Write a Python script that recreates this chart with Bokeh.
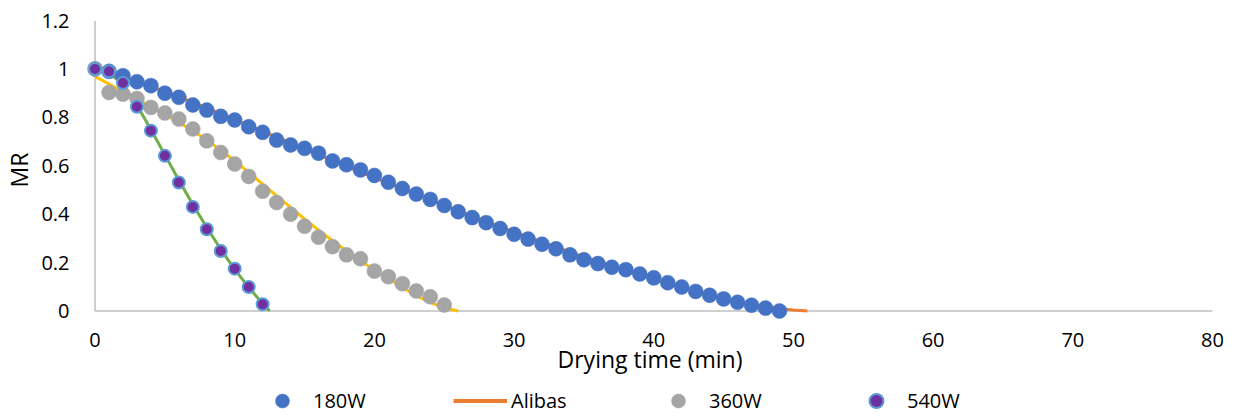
from bokeh.plotting import figure
from bokeh.layouts import column
from bokeh.models import Range1d, FixedTicker, Legend, LegendItem
from bokeh.embed import file_html
from bokeh.resources import INLINE

# ---------------- data ----------------
t_180 = list(range(0, 50))
mr_180 = [1.0, 0.99, 0.972, 0.947, 0.931, 0.90, 0.883, 0.851, 0.83, 0.804,
          0.789, 0.761, 0.738, 0.706, 0.686, 0.672, 0.652, 0.62, 0.604, 0.583,
          0.56, 0.532, 0.506, 0.483, 0.461, 0.436, 0.41, 0.386, 0.365, 0.341,
          0.317, 0.297, 0.276, 0.257, 0.232, 0.212, 0.196, 0.181, 0.171, 0.153,
          0.137, 0.117, 0.099, 0.081, 0.065, 0.05, 0.036, 0.024, 0.012, 0.0]

t_360 = list(range(0, 26))
mr_360 = [1.0, 0.903, 0.896, 0.878, 0.841, 0.818, 0.793, 0.752, 0.703, 0.655,
          0.607, 0.556, 0.495, 0.448, 0.40, 0.35, 0.305, 0.266, 0.232, 0.216,
          0.165, 0.142, 0.113, 0.083, 0.059, 0.025]

t_540 = list(range(0, 13))
mr_540 = [1.0, 0.99, 0.942, 0.844, 0.745, 0.641, 0.531, 0.43, 0.338, 0.248,
          0.175, 0.099, 0.028]

# Alibas model curves
t_fit_180 = list(range(0, 52))
mr_fit_180 = [0.995, 0.982, 0.966, 0.948, 0.928, 0.907, 0.885, 0.862, 0.839, 0.815,
              0.791, 0.767, 0.743, 0.718, 0.694, 0.670, 0.646, 0.622, 0.598, 0.575,
              0.551, 0.528, 0.505, 0.482, 0.459, 0.437, 0.414, 0.392, 0.370, 0.348,
              0.327, 0.306, 0.285, 0.264, 0.244, 0.224, 0.205, 0.186, 0.167, 0.149,
              0.132, 0.115, 0.098, 0.082, 0.067, 0.053, 0.040, 0.029, 0.019, 0.010,
              0.004, 0.0]

t_fit_360 = list(range(0, 27))
mr_fit_360 = [0.968, 0.938, 0.905, 0.874, 0.843, 0.812, 0.78, 0.745, 0.706, 0.664,
              0.62, 0.573, 0.524, 0.476, 0.428, 0.38, 0.334, 0.29, 0.248, 0.208,
              0.17, 0.134, 0.097, 0.064, 0.036, 0.013, 0.0]

t_fit_540 = list(range(0, 13)) + [12.5]
mr_fit_540 = [1.0, 0.985, 0.935, 0.85, 0.75, 0.645, 0.54, 0.44, 0.345, 0.255,
              0.172, 0.098, 0.03, 0.0]

x_ticks = [0, 10, 20, 30, 40, 50, 60, 70, 80]
y_ticks = [0, 0.2, 0.4, 0.6, 0.8, 1.0, 1.2]
y_tick_labels = {0: "0", 0.2: "0.2", 0.4: "0.4", 0.6: "0.6", 0.8: "0.8", 1.0: "1", 1.2: "1.2"}
x_axis_span = [0, 80]
y_axis_span = [0, 1.2]
legend_labels = ["180W", "Alibas", "360W", "540W"]

FONT = "Open Sans"
C180, CFIT, C360, CFIT360, C540, CFIT540, C540_EDGE = (
    "#4472C4", "#ED7D31", "#A5A5A5", "#FFC000", "#7030A0", "#70AD47", "#5B9BD5")

p = figure(width=1236, height=379,
           x_range=Range1d(-0.54, 80), y_range=Range1d(-0.035, 1.2),
           output_backend="svg", toolbar_location=None,
           min_border_left=87, min_border_right=24, min_border_top=20, min_border_bottom=60)
p.outline_line_color = None
p.xgrid.visible = False
p.ygrid.visible = False
p.background_fill_color = "white"
p.border_fill_color = "white"

# axis lines drawn at data zero
p.segment(x0=[x_axis_span[0]], y0=[0], x1=[x_axis_span[1]], y1=[0], line_color="#BFBFBF", line_width=1.5)
p.segment(x0=[0], y0=[y_axis_span[0]], x1=[0], y1=[y_axis_span[1]], line_color="#BFBFBF", line_width=1.5)

for ax in (p.xaxis[0], p.yaxis[0]):
    ax.axis_line_color = None
    ax.major_tick_line_color = None
    ax.minor_tick_line_color = None
    ax.major_label_text_font = FONT
    ax.major_label_text_font_size = "20px"
    ax.major_label_text_color = "black"
    ax.axis_label_text_font = FONT
    ax.axis_label_text_font_size = "23px"
    ax.axis_label_text_font_style = "normal"
    ax.axis_label_text_color = "black"

p.xaxis[0].ticker = FixedTicker(ticks=x_ticks)
p.yaxis[0].ticker = FixedTicker(ticks=y_ticks)
p.yaxis[0].major_label_overrides = y_tick_labels
p.xaxis[0].axis_label = "Drying time (min)"
p.yaxis[0].axis_label = "MR"
p.xaxis[0].major_label_standoff = 7
p.yaxis[0].major_label_standoff = 12
p.xaxis[0].axis_label_standoff = -7
p.yaxis[0].axis_label_standoff = 3

# model lines
p.line(t_fit_180, mr_fit_180, line_color=CFIT, line_width=3)
p.line(t_fit_360, mr_fit_360, line_color=CFIT360, line_width=3)
p.line(t_fit_540, mr_fit_540, line_color=CFIT540, line_width=3)

# experimental points
p.scatter(t_180, mr_180, size=15, fill_color=C180, line_color=C180, line_width=0.5)
p.scatter(t_360, mr_360, size=15, fill_color=C360, line_color=C360, line_width=0.5)
p.scatter(t_540, mr_540, size=12, fill_color=C540, line_color=C540_EDGE, line_width=2)

# ---------------- legend strip (same series, drawn out of view; only the legend shows) ----------------
lg = figure(width=1236, height=37, x_range=Range1d(-3, -2), y_range=Range1d(0, 1),
            output_backend="svg", toolbar_location=None,
            x_axis_location=None, y_axis_location=None,
            min_border_left=0, min_border_right=0, min_border_top=0, min_border_bottom=0)
lg.outline_line_color = None
lg.xgrid.visible = False
lg.ygrid.visible = False
lg.border_fill_color = "white"

d180 = lg.scatter(t_180, mr_180, fill_color=C180, line_color=C180, line_width=0.5)
dfit = lg.line(t_fit_180, mr_fit_180, line_color=CFIT, line_width=4)
d360 = lg.scatter(t_360, mr_360, fill_color=C360, line_color=C360, line_width=0.5)
d540 = lg.scatter(t_540, mr_540, fill_color=C540, line_color=C540_EDGE, line_width=2)

legend = Legend(items=[LegendItem(label=lab, renderers=[r])
                       for lab, r in zip(legend_labels, [d180, dfit, d360, d540])],
                orientation="horizontal", location=(168, -2),
                glyph_width=54, glyph_height=35, label_standoff=4, label_width=130, spacing=10,
                padding=0, margin=0, border_line_color=None, background_fill_alpha=0,
                label_text_font=FONT, label_text_font_size="20px", label_text_color="black")
lg.add_layout(legend, "center")

layout = column(p, lg, spacing=0)
open("out.html", "w").write(file_html(layout, INLINE))
